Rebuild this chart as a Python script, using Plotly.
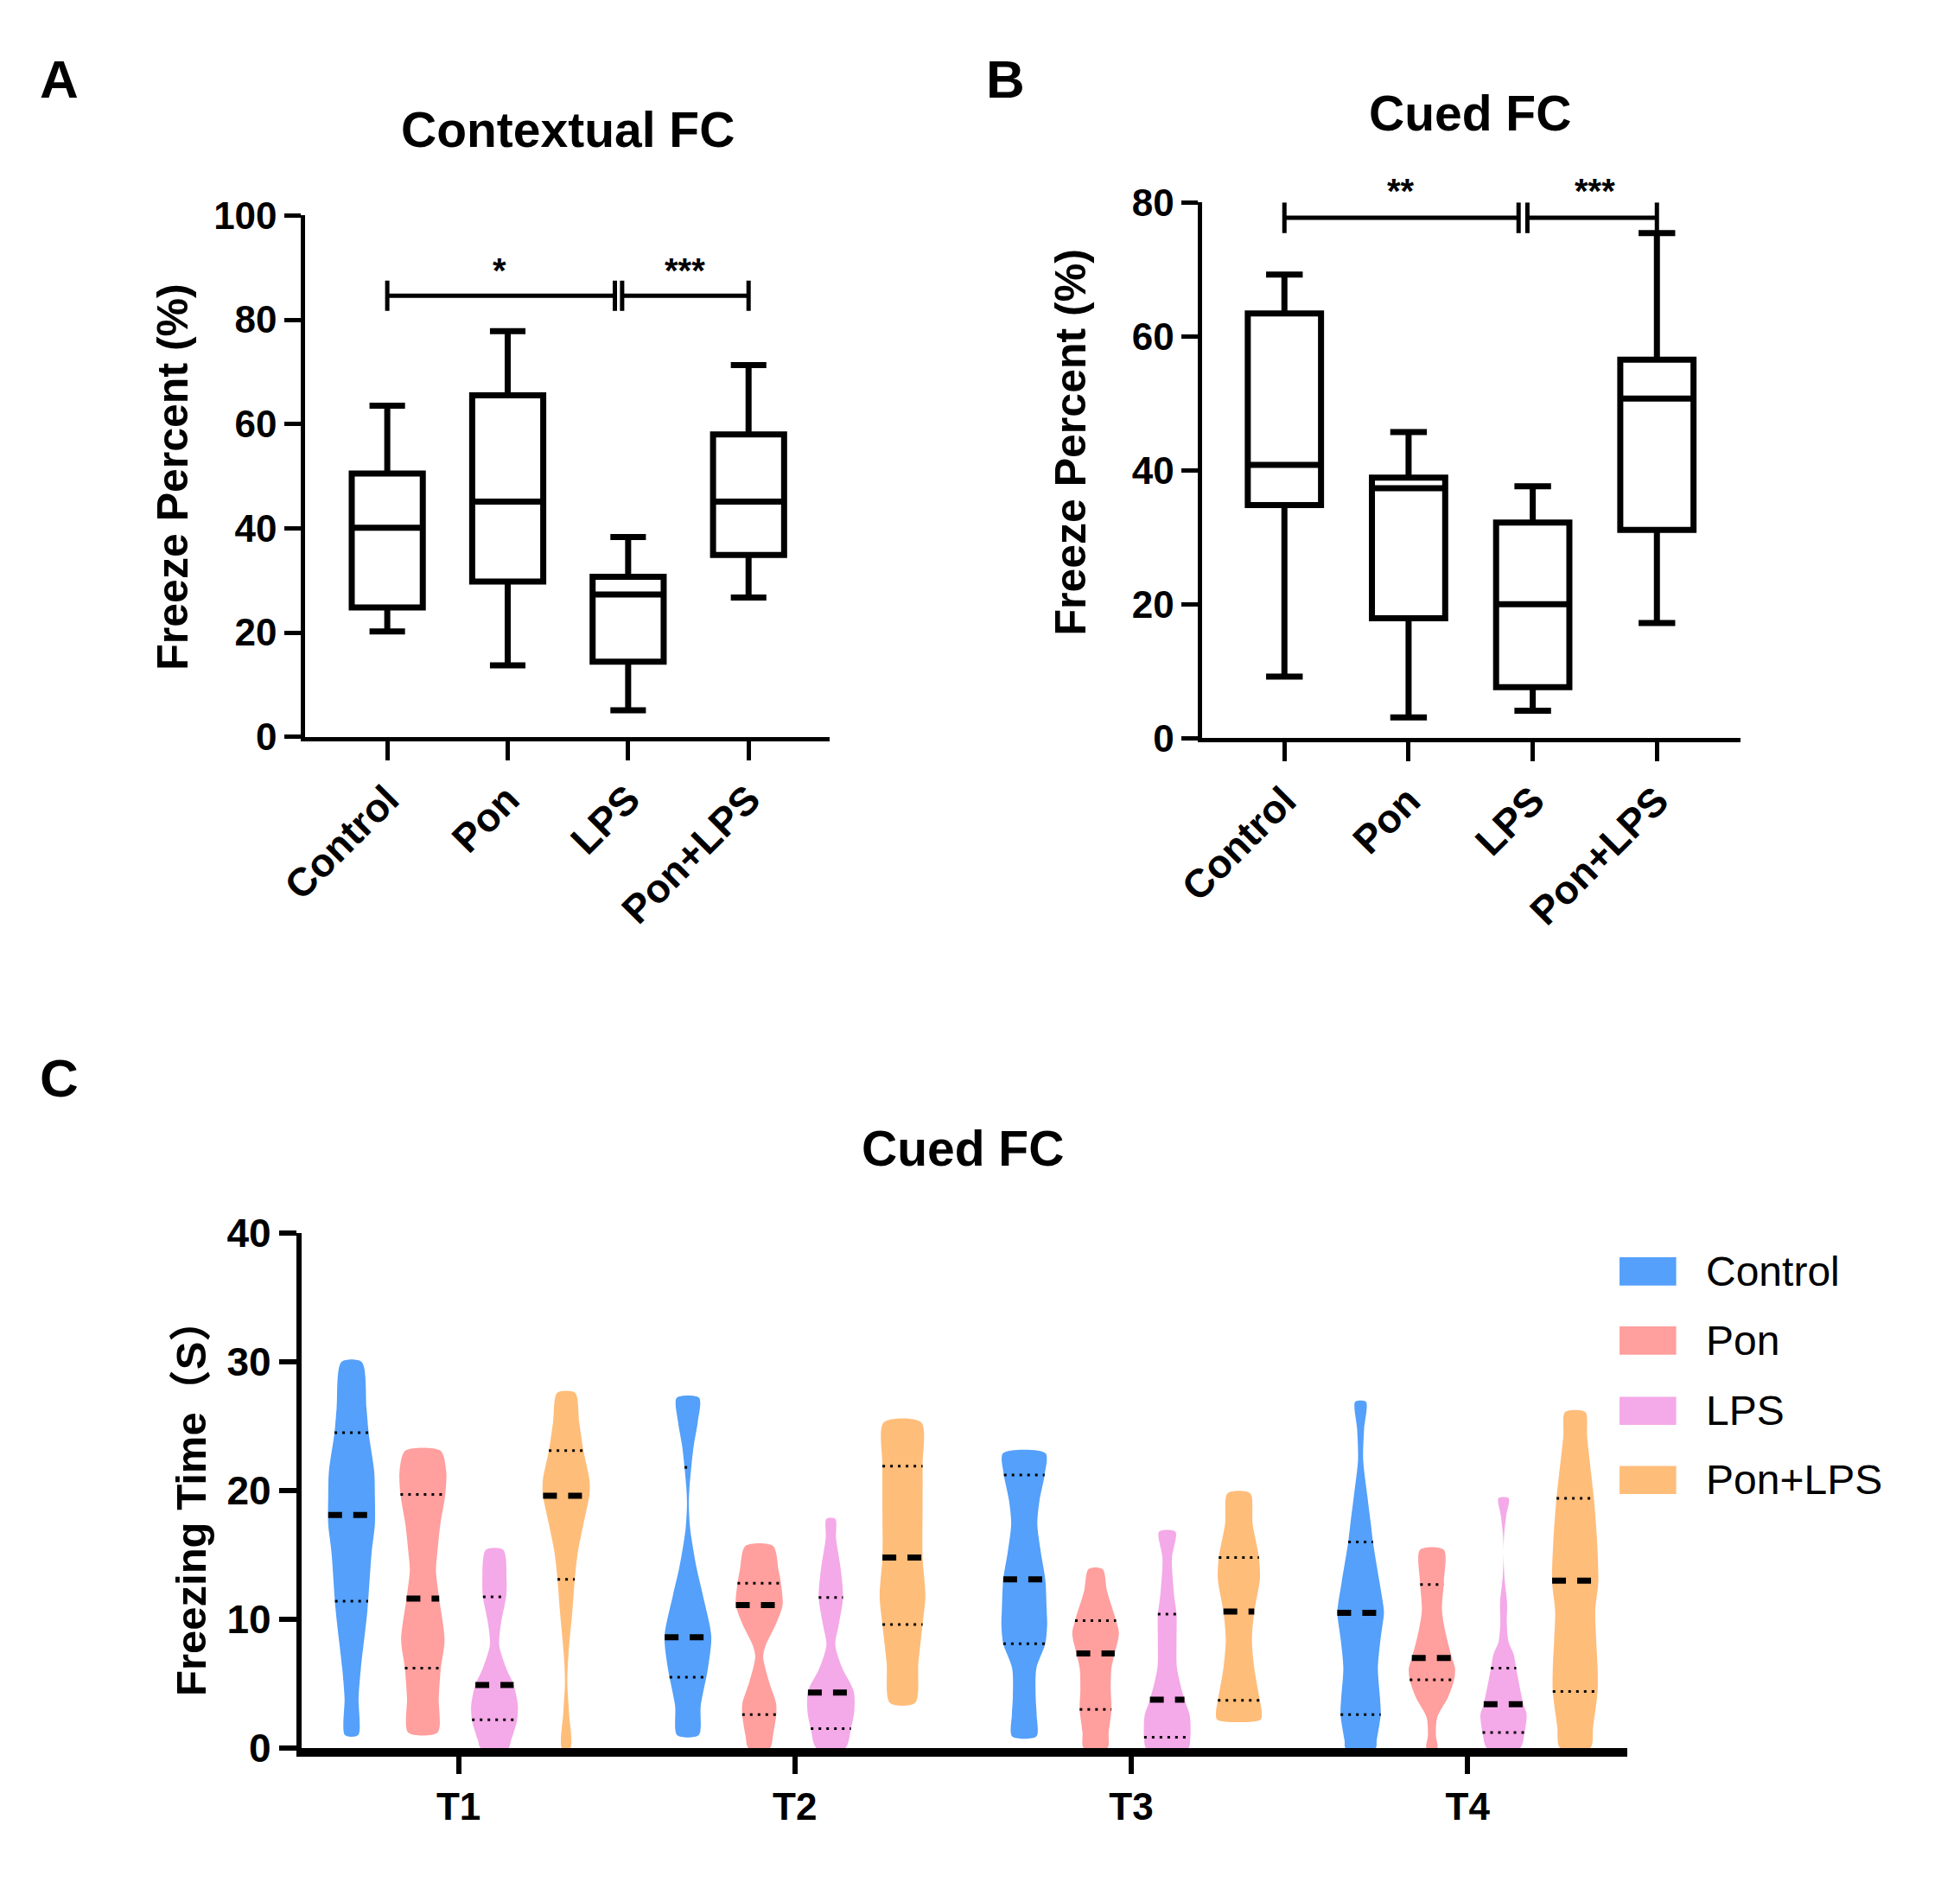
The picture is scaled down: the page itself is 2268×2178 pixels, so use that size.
import numpy as np
import plotly.graph_objects as go

# --- dados ---
groups = ["Control", "Pon", "LPS", "Pon+LPS"]
colors = ["#54A0FA", "#FF9F9E", "#F4A9E8", "#FFBD7A"]

# painel A - Contextual FC (box: min, q1, mediana, q3, max)
ctx_min = [20.2, 13.7, 5.1, 26.7]
ctx_q1 = [24.8, 29.8, 14.4, 34.9]
ctx_med = [40.1, 45.1, 27.3, 45.1]
ctx_q3 = [50.5, 65.5, 30.7, 58.0]
ctx_max = [63.5, 77.8, 38.3, 71.3]

# painel B - Cued FC
cue_min = [9.2, 3.1, 4.1, 17.2]
cue_q1 = [34.8, 17.9, 7.6, 31.1]
cue_med = [40.8, 37.3, 20.0, 50.7]
cue_q3 = [63.4, 38.9, 32.2, 56.5]
cue_max = [69.2, 45.7, 37.6, 75.4]

# painel C - violinos (perfil de densidade relativa por tempo)
times = ["T1", "T2", "T3", "T4"]

control_y = [
    [1.0, 3.9, 6.2, 10.7, 15.2, 17.4, 19.5, 21.5, 24.5, 26.4, 30.0],
    [1.0, 3.3, 6.2, 8.7, 11.8, 14.0, 17.0, 19.0, 20.3, 21.9, 23.5, 25.3, 27.2],
    [0.9, 2.6, 3.9, 6.2, 8.1, 9.6, 10.7, 13.1, 15.2, 17.4, 19.2, 21.2, 22.9],
    [0.0, 0.6, 2.6, 3.9, 6.2, 8.4, 10.5, 11.1, 12.9, 16.0, 17.4, 19.7, 22.4, 24.8, 26.9],
]
control_w = [
    [0.28, 0.30, 0.40, 0.68, 0.86, 1.0, 1.0, 0.97, 0.73, 0.64, 0.43],
    [0.46, 0.55, 0.86, 1.0, 0.65, 0.37, 0.10, 0.04, 0.07, 0.15, 0.25, 0.42, 0.48],
    [0.52, 0.53, 0.49, 0.52, 0.90, 0.98, 0.96, 0.90, 0.71, 0.56, 0.65, 0.87, 0.91],
    [0.64, 0.69, 0.86, 0.83, 0.74, 0.85, 1.0, 0.97, 0.81, 0.53, 0.44, 0.28, 0.11, 0.15, 0.23],
]
control_med = [18.1, 8.6, 13.1, 10.5]
control_q1 = [11.4, 5.5, 8.1, 2.6]
control_q3 = [24.5, 21.8, 21.2, 16.0]

pon_y = [
    [1.2, 3.9, 6.2, 8.4, 11.6, 13.8, 15.2, 17.4, 19.7, 21.5, 23.1],
    [0.0, 1.0, 2.6, 3.5, 5.1, 7.1, 8.0, 9.6, 11.1, 12.8, 13.8, 15.7],
    [0.0, 1.2, 3.0, 4.6, 6.2, 7.35, 8.9, 9.9, 12.2, 13.9],
    [0.0, 1.0, 2.4, 3.9, 5.3, 6.2, 7.0, 8.9, 10.7, 12.9, 15.4],
]
pon_w = [
    [0.63, 0.68, 0.77, 0.93, 0.70, 0.56, 0.62, 0.75, 0.96, 1.0, 0.75],
    [0.46, 0.59, 0.73, 0.72, 0.43, 0.17, 0.28, 0.71, 1.0, 0.93, 0.83, 0.59],
    [0.51, 0.56, 0.68, 0.65, 0.68, 0.82, 1.0, 0.88, 0.49, 0.30],
    [0.23, 0.17, 0.23, 0.68, 0.95, 0.99, 0.86, 0.59, 0.43, 0.51, 0.51],
]
pon_med = [11.6, 11.1, 7.35, 7.0]
pon_q1 = [6.2, 2.6, 3.0, 5.3]
pon_q3 = [19.7, 12.8, 9.9, 12.7]

lps_y = [
    [0.0, 0.6, 2.1, 3.3, 4.9, 6.2, 8.0, 9.6, 11.8, 12.9, 15.4],
    [0.0, 1.5, 2.8, 4.4, 6.2, 8.0, 9.6, 11.7, 13.8, 16.3, 17.8],
    [0.0, 0.8, 1.7, 2.6, 3.75, 6.2, 8.4, 10.4, 11.8, 14.7, 16.8],
    [0.0, 1.2, 2.6, 3.4, 6.2, 7.3, 8.2, 9.6, 11.3, 13.2, 15.2, 16.7, 18.1, 19.4],
]
lps_w = [
    [0.59, 0.71, 0.96, 1.0, 0.82, 0.50, 0.20, 0.27, 0.50, 0.52, 0.37],
    [0.62, 0.86, 1.0, 0.98, 0.49, 0.19, 0.34, 0.52, 0.43, 0.22, 0.19],
    [0.90, 0.99, 1.0, 0.96, 0.74, 0.42, 0.40, 0.40, 0.30, 0.20, 0.35],
    [0.71, 0.90, 0.99, 0.85, 0.54, 0.43, 0.22, 0.14, 0.15, 0.04, 0.0, 0.03, 0.12, 0.22],
]
lps_med = [4.9, 4.3, 3.75, 3.4]
lps_q1 = [2.2, 1.5, 0.83, 1.2]
lps_q3 = [11.75, 11.7, 10.4, 6.2]

ponlps_y = [
    [0.0, 2.8, 5.1, 7.3, 10.7, 13.1, 15.2, 17.4, 19.7, 20.8, 23.1, 25.3, 27.6],
    [3.5, 6.6, 9.6, 11.8, 14.8, 18.5, 21.9, 25.3],
    [2.2, 2.8, 3.7, 6.2, 8.4, 10.6, 13.1, 14.8, 17.4, 19.8],
    [0.0, 1.7, 4.4, 6.2, 8.4, 10.7, 12.9, 16.3, 19.4, 24.2, 26.1],
]
ponlps_w = [
    [0.18, 0.12, 0.05, 0.10, 0.27, 0.37, 0.50, 0.74, 1.0, 1.0, 0.74, 0.56, 0.38],
    [0.54, 0.68, 0.86, 0.98, 0.86, 0.86, 0.86, 0.80],
    [0.93, 0.98, 0.90, 0.66, 0.56, 0.66, 0.90, 0.86, 0.59, 0.48],
    [0.65, 0.77, 0.96, 0.96, 0.90, 0.86, 0.99, 0.93, 0.80, 0.51, 0.43],
]
ponlps_med = [19.6, 14.8, 10.6, 13.0]
ponlps_q1 = [13.1, 9.6, 3.7, 4.4]
ponlps_q3 = [23.1, 21.9, 14.8, 19.4]

violin_y = [control_y, pon_y, lps_y, ponlps_y]
violin_w = [control_w, pon_w, lps_w, ponlps_w]
violin_med = [control_med, pon_med, lps_med, ponlps_med]
violin_q1 = [control_q1, pon_q1, lps_q1, ponlps_q1]
violin_q3 = [control_q3, pon_q3, lps_q3, ponlps_q3]

# --- estilo ---
FONT = "Liberation Sans, Arial, Noto Sans CJK SC, sans-serif"
W, H = 2268, 2178
offsets = [-0.318, -0.106, 0.107, 0.32]   # posicao de cada grupo dentro do tempo
HALF = 0.0694                             # meia-largura maxima do violino

fig = go.Figure()

# --- paineis A e B: box plots ---
def add_boxes(xa, ya, q1, med, q3, lo, hi):
    fig.add_trace(go.Box(
        x=[0, 1, 2, 3], q1=q1, median=med, q3=q3, lowerfence=lo, upperfence=hi,
        width=0.59, whiskerwidth=0.5, fillcolor="white", boxpoints=False,
        line=dict(color="black", width=7), xaxis=xa, yaxis=ya,
        showlegend=False, hoverinfo="skip",
    ))

add_boxes("x", "y", ctx_q1, ctx_med, ctx_q3, ctx_min, ctx_max)
add_boxes("x2", "y2", cue_q1, cue_med, cue_q3, cue_min, cue_max)

# --- painel C: violinos ---
for g in range(4):
    for t in range(4):
        ys = np.array(violin_y[g][t])
        ws = np.array(violin_w[g][t]) * HALF
        cx = t + offsets[g]
        px = np.concatenate([cx + ws, (cx - ws)[::-1]])
        py = np.concatenate([ys, ys[::-1]])
        fig.add_trace(go.Scatter(
            x=list(px) + [px[0]], y=list(py) + [py[0]], mode="lines", fill="toself",
            fillcolor=colors[g], line=dict(width=0, color=colors[g], shape="spline", smoothing=0.8),
            xaxis="x3", yaxis="y3", showlegend=False, hoverinfo="skip",
        ))
        # mediana (tracejada) e quartis (pontilhados)
        for val, dash, lw in [(violin_med[g][t], "16px,13px", 7),
                              (violin_q1[g][t], "3px,6px", 3),
                              (violin_q3[g][t], "3px,6px", 3)]:
            hw = np.interp(val, ys, ws)
            fig.add_trace(go.Scatter(
                x=[cx - hw, cx + hw], y=[val, val], mode="lines",
                line=dict(color="black", width=lw, dash=dash),
                xaxis="x3", yaxis="y3", showlegend=False, hoverinfo="skip",
            ))

# --- eixos ---
tick_bold = dict(family=FONT, size=44, color="black", weight="bold")
common_x = dict(showgrid=False, zeroline=False, showline=True, linecolor="black",
                ticks="outside", tickcolor="black", tickvals=[0, 1, 2, 3], automargin=False)
common_y = dict(showgrid=False, zeroline=False, showline=True, linecolor="black",
                ticks="outside", tickcolor="black", tickfont=tick_bold, automargin=False)

fig.update_layout(
    width=W, height=H, margin=dict(l=0, r=0, t=0, b=0, pad=0, autoexpand=False),
    paper_bgcolor="white", plot_bgcolor="white",
    xaxis=dict(common_x, domain=[0.1558, 0.4231], range=[-0.68, 3.67], ticktext=groups,
               tickangle=-45, linewidth=5, tickwidth=5, ticklen=22,
               tickfont=dict(family=FONT, size=46, color="black", weight="bold"), anchor="y"),
    yaxis=dict(common_y, domain=[0.6085, 0.8855], range=[0, 100], tickvals=[0, 20, 40, 60, 80, 100],
               linewidth=5, tickwidth=5, ticklen=19, anchor="x"),
    xaxis2=dict(common_x, domain=[0.6135, 0.8878], range=[-0.66, 3.67], ticktext=groups,
                tickangle=-45, linewidth=5, tickwidth=5, ticklen=22,
                tickfont=dict(family=FONT, size=46, color="black", weight="bold"), anchor="y2"),
    yaxis2=dict(common_y, domain=[0.6078, 0.8925], range=[0, 80], tickvals=[0, 20, 40, 60, 80],
                linewidth=5, tickwidth=5, ticklen=19, anchor="x2"),
    xaxis3=dict(common_x, domain=[0.1538, 0.8301], range=[-0.467, 3.474], ticktext=times,
                linewidth=10, tickwidth=6, ticklen=20,
                tickfont=dict(family=FONT, size=44, color="black", weight="bold"), anchor="y3"),
    yaxis3=dict(common_y, domain=[0.0712, 0.3448], range=[0, 40], tickvals=[0, 10, 20, 30, 40],
                linewidth=6, tickwidth=6, ticklen=20,
                tickfont=dict(family=FONT, size=46, color="black", weight="bold"), anchor="x3"),
)

# --- barras de significancia ---
def bracket(xa, ya, y, x0, xb1, xb2, x1, tick):
    lines = [(x0, y, xb1, y), (xb2, y, x1, y),
             (x0, y - tick, x0, y + tick), (x1, y - tick, x1, y + tick),
             (xb1, y - tick, xb1, y + tick), (xb2, y - tick, xb2, y + tick)]
    for a, b, c, d in lines:
        fig.add_shape(type="line", xref=xa, yref=ya, x0=a, y0=b, x1=c, y1=d,
                      line=dict(color="black", width=5))

bracket("x", "y", 84.6, 0, 1.89, 1.95, 3, 2.9)
bracket("x2", "y2", 77.7, 0, 1.886, 1.957, 3, 2.3)

star_font = dict(family=FONT, size=40, color="black", weight="bold")
for xa, ya, x, y, s in [("x", "y", 0.93, 85.5, "*"), ("x", "y", 2.47, 85.5, "***"),
                        ("x2", "y2", 0.94, 78.6, "**"), ("x2", "y2", 2.5, 78.6, "***")]:
    fig.add_annotation(xref=xa, yref=ya, x=x, y=y, text=s, showarrow=False,
                       yanchor="bottom", font=star_font)

# --- textos ---
def text(x, y, s, size, bold=True, angle=0, xanchor="center"):
    fig.add_annotation(xref="paper", yref="paper", x=x, y=y, text=s, showarrow=False,
                       xanchor=xanchor, yanchor="middle", textangle=angle,
                       font=dict(family=FONT, size=size, color="black",
                                 weight="bold" if bold else "normal"))

text(0.0301, 0.958, "A", 62)
text(0.5128, 0.958, "B", 62)
text(0.0301, 0.4272, "C", 62)
text(0.2897, 0.9312, "Contextual FC", 57)
text(0.7500, 0.9400, "Cued FC", 57)
text(0.4910, 0.3899, "Cued FC", 57)
text(0.0878, 0.7463, "Freeze Percent (%)", 50, angle=-90)
text(0.5462, 0.7650, "Freeze Percent (%)", 50, angle=-90)
text(0.0974, 0.2043, "Freezing Time（S）", 49, angle=-90)

# --- legenda ---
legend_y = [1012, 1067, 1123, 1178]
for g in range(4):
    yc = 1 - legend_y[g] / 1498
    fig.add_shape(type="rect", xref="paper", yref="paper", x0=0.8263, x1=0.8552,
                  y0=yc - 0.0075, y1=yc + 0.0075, fillcolor=colors[g], line=dict(width=0))
    text(0.8695, yc, groups[g], 48, bold=False, xanchor="left")

# tira a margem padrao do body e a barra de ferramentas
fig.write_html("out.html", config={"displayModeBar": False},
               post_script="document.body.style.margin='0';")
